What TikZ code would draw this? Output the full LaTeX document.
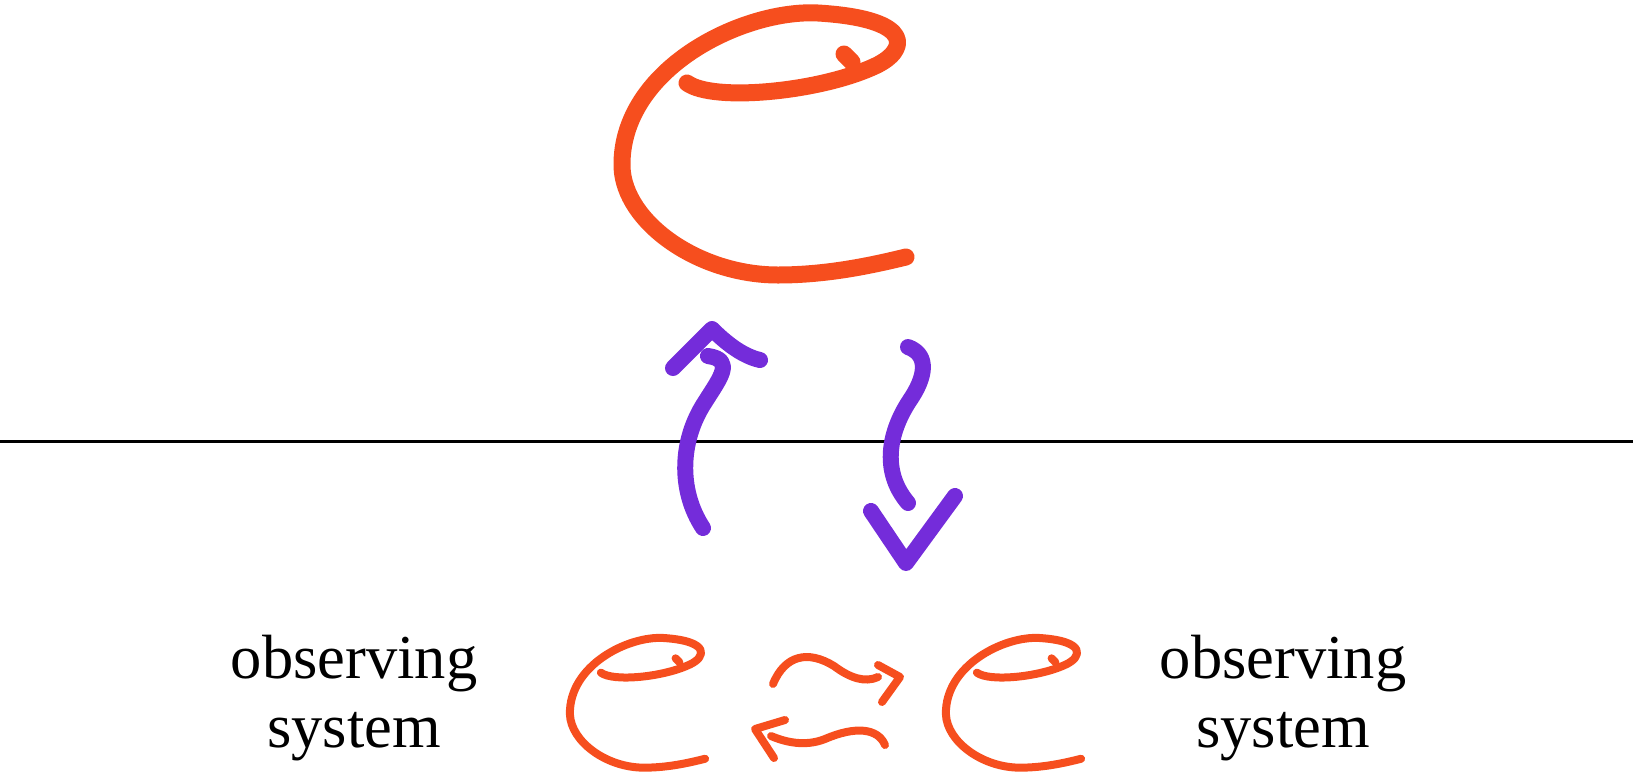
\documentclass[tikz,border=0pt]{standalone}
\usepackage{fontspec}
\setmainfont{Liberation Serif}
\definecolor{eorange}{RGB}{246,78,30}
\definecolor{arrowpurple}{RGB}{116,44,218}
\tikzset{
  marker/.style={line cap=round, line join=round},
  bigstroke/.style={marker, draw=eorange, line width=17pt},
  smallstroke/.style={marker, draw=eorange, line width=8pt},
  purplestroke/.style={marker, draw=arrowpurple, line width=16pt},
  label/.style={font=\fontsize{62.5}{69}\selectfont, align=center, inner sep=0pt},
  lettere/.pic={
    \draw[pic actions] (69,76) .. controls (95,95) and (200,85) .. (255,60)
      .. controls (290,45) and (300,12) .. (200,6)
      .. controls (125,2) and (2,62) .. (4,160)
      .. controls (6,215) and (80,268) .. (160,268)
      .. controls (210,268) and (255,258) .. (288,250);
    \draw[pic actions] (226,47) -- (234,55);
  }
}
\begin{document}
\begin{tikzpicture}[x=1pt, y=-1pt]
\useasboundingbox (0,0) rectangle (1633,777);
% big e
\pic[bigstroke] (bige) at (618,7) {lettere};
% horizontal line
\coordinate (lineL) at (0,441);
\coordinate (lineR) at (1633,441);
\draw[line width=3pt] (lineL) -- (lineR);
% up arrow
\coordinate (upfoot) at (703,528);
\coordinate (uptip) at (712,329);
\draw[purplestroke] (upfoot) .. controls (678,490) and (680,440) .. (705,402)
  .. controls (720,378) and (735,360) .. (708,356);
\draw[purplestroke] (673,368) -- (uptip) .. controls (725,342) and (742,356) .. (760,360);
% down arrow
\coordinate (downtop) at (908,347);
\coordinate (downtip) at (906,563);
\draw[purplestroke] (downtop) .. controls (930,355) and (925,378) .. (910,400)
  .. controls (890,430) and (880,470) .. (908,503);
\draw[purplestroke] (871,511) -- (downtip) -- (955,496);
% small e's
\pic[smallstroke, xscale=0.476, yscale=0.495] (eleft) at (568,635) {lettere};
\pic[smallstroke, xscale=0.476, yscale=0.495] (eright) at (944,635) {lettere};
% squiggle arrows
\coordinate (topstart) at (773,684);
\coordinate (toptip) at (900,677);
\draw[smallstroke] (topstart) .. controls (785,655) and (808,650) .. (834,666)
  .. controls (850,678) and (865,683) .. (878,677);
\draw[smallstroke] (878,665) -- (toptip) -- (882,702);
\coordinate (botstart) at (885,745);
\coordinate (bottip) at (755,729);
\draw[smallstroke] (botstart) .. controls (878,728) and (855,726) .. (825,739)
  .. controls (805,747) and (785,742) .. (771,736);
\draw[smallstroke] (785,720) -- (bottip) -- (774,758);
% labels
\node[label] (obsL) at (354,698.5) {observing\\system};
\node[label] (obsR) at (1283,698.5) {observing\\system};
\end{tikzpicture}
\end{document}
